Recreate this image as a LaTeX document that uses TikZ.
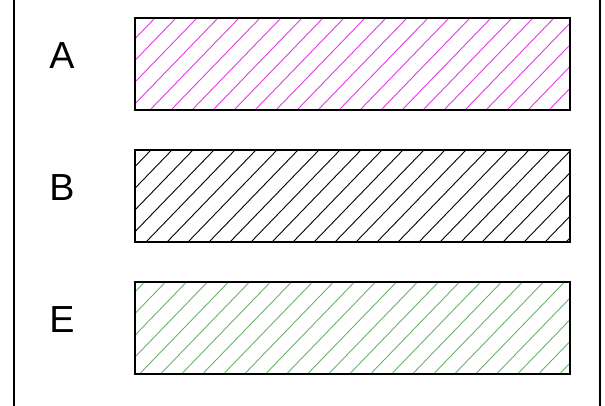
\documentclass[tikz,border=0pt]{standalone}
\usepackage{fontspec}
\setmainfont{Liberation Sans}
\definecolor{hatchmagenta}{HTML}{E33BE3}
\definecolor{hatchgreen}{HTML}{6AB46A}
\tikzset{
  barbox/.style={line width=1.5pt},
  hatchline/.style={line width=0.9pt},
  rowlabel/.style={font=\fontsize{37.7}{40}\selectfont, anchor=base}
}

\begin{document}
\begin{tikzpicture}[x=1pt,y=-1pt]
\useasboundingbox (0,0) rectangle (605,405);
\clip (0,0) rectangle (605,405);
% outer frame, top and bottom lie outside the picture
\draw[line width=1.5pt] (14,-20) rectangle (600,425);
% rows: label / top of bar / hatch colour / phase of the hatch
\foreach \lbl/\ytop/\col/\ph in {A/18/hatchmagenta/150, B/150/black/146, E/282/hatchgreen/139.5}{
  \node[rowlabel] (label\lbl) at (62,\ytop+50) {\lbl};
  \begin{scope}
    \clip (135,\ytop) rectangle (570,\ytop+92);
    \foreach \i in {-5,...,21}
      \draw[hatchline, \col] (\ph+21*\i,\ytop+92) -- ++(89,-92);
  \end{scope}
  \draw[barbox] (135,\ytop) rectangle (570,\ytop+92);
}
\end{tikzpicture}
\end{document}
